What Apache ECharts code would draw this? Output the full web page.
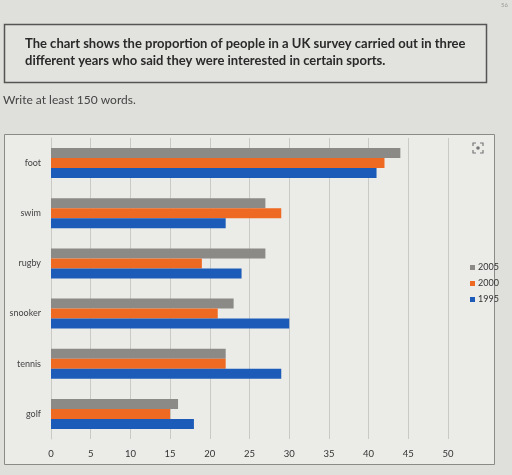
<!DOCTYPE html>
<html>
<head>
<meta charset="utf-8">
<script src="https://cdn.jsdelivr.net/npm/echarts@6/dist/echarts.min.js"></script>
<style>
html,body{margin:0;padding:0;background:#dfdfdb;}
#c{width:512px;height:475px;}
</style>
</head>
<body>
<div id="c"></div>
<script>
var categories = ['foot', 'swim', 'rugby', 'snooker', 'tennis', 'golf'];
var years = ['2005', '2000', '1995'];
var values2005 = [44, 27, 27, 23, 22, 16];
var values2000 = [42, 29, 19, 21, 22, 15];
var values1995 = [41, 22, 24, 30, 29, 18];
var tickValues = [0, 5, 10, 15, 20, 25, 30, 35, 40, 45, 50];
var titleLine1 = 'The chart shows the proportion of people in a UK survey carried out in three';
var titleLine2 = 'different years who said they were interested in certain sports.';
var instruction = 'Write at least 150 words.';

var colors = ['#8b8a87', '#ee6a22', '#1c5cb8'];
var seriesValues = [values2005, values2000, values1995];

var chart = echarts.init(document.getElementById('c'), null, {renderer: 'canvas'});

function corner(x, y, dx, dy) {
  return {type: 'polyline', shape: {points: [[x, y + dy], [x, y], [x + dx, y]]},
    style: {stroke: '#777', lineWidth: 1.2, fill: null}, z: 5};
}

var option = {
  backgroundColor: '#dfdfdb',
  animation: false,
  color: colors,
  graphic: [
    {type: 'rect', shape: {x: 4.5, y: 24.5, width: 482, height: 58}, style: {fill: '#e2e2de', stroke: '#555', lineWidth: 1.5}, z: 0},
    {type: 'text', left: 25, top: 37, style: {text: titleLine1, font: 'bold 13px Lato', fill: '#2a2a2a'}, z: 1},
    {type: 'text', left: 25, top: 54, style: {text: titleLine2, font: 'bold 13px Lato', fill: '#2a2a2a'}, z: 1},
    {type: 'text', left: 3, top: 94, style: {text: instruction, font: '12px Lato', fill: '#444'}, z: 1},
    {type: 'rect', shape: {x: 4.5, y: 134.5, width: 490, height: 330}, style: {fill: '#ebebe8', stroke: '#8a8a88', lineWidth: 1}, z: -1},
    {type: 'text', right: 4, top: 2, style: {text: '56', font: '6px Lato', fill: '#999'}},
    {type: 'circle', shape: {cx: 478, cy: 148, r: 1.8}, style: {fill: '#777'}, z: 5},
    corner(473, 143, 3, 3), corner(483, 143, -3, 3), corner(473, 153, 3, -3), corner(483, 153, -3, -3)
  ],
  legend: {
    data: years,
    orient: 'vertical',
    left: 465,
    top: 258,
    itemWidth: 5,
    itemHeight: 5,
    itemGap: 7,
    icon: 'rect',
    textStyle: {fontSize: 9, color: '#333', fontFamily: 'Lato', padding: [0, 0, 0, -2]}
  },
  grid: {left: 51, right: 64, top: 138, bottom: 36, containLabel: false},
  xAxis: {
    type: 'value',
    min: 0,
    max: 50,
    interval: 5,
    axisLine: {show: false},
    axisTick: {show: false},
    splitLine: {show: true, lineStyle: {color: '#c9c9c6', width: 1}},
    axisLabel: {fontSize: 9.5, color: '#333', fontFamily: 'Lato', margin: 10,
      formatter: function (v) { return tickValues.indexOf(v) >= 0 ? String(v) : ''; }}
  },
  yAxis: {
    type: 'category',
    data: categories,
    inverse: true,
    axisLine: {show: true, lineStyle: {color: '#c9c9c6'}},
    axisTick: {show: false},
    axisLabel: {fontSize: 9, color: '#444', fontFamily: 'Lato', margin: 10}
  },
  series: years.map(function (y, i) {
    return {
      name: y,
      type: 'bar',
      data: seriesValues[i],
      barWidth: 10,
      barGap: '0%',
      itemStyle: {color: colors[i]}
    };
  })
};
chart.setOption(option);
</script>
</body>
</html>
